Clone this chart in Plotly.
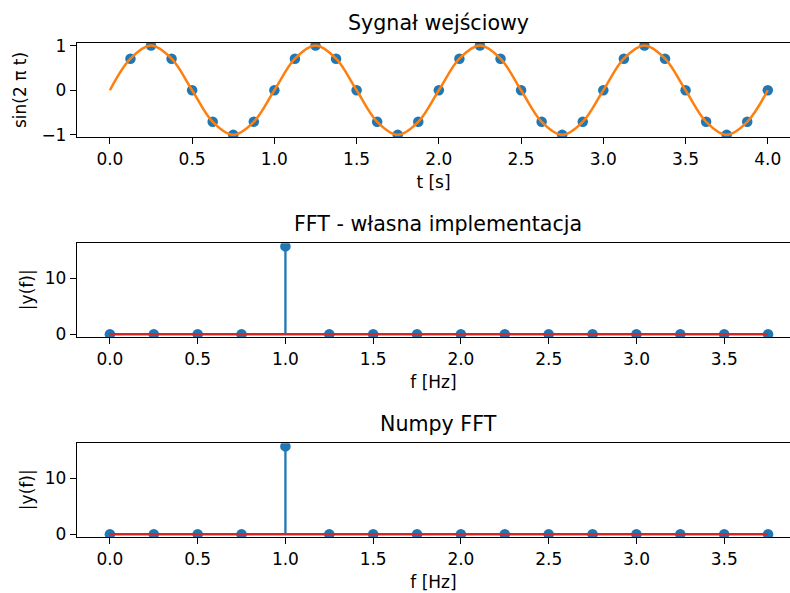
import plotly.graph_objects as go

# ---- data ----
t_samples = [0.0, 0.125, 0.25, 0.375, 0.5, 0.625, 0.75, 0.875,
             1.0, 1.125, 1.25, 1.375, 1.5, 1.625, 1.75, 1.875,
             2.0, 2.125, 2.25, 2.375, 2.5, 2.625, 2.75, 2.875,
             3.0, 3.125, 3.25, 3.375, 3.5, 3.625, 3.75, 3.875, 4.0]
signal = [0.0, 0.707, 1.0, 0.707, 0.0, -0.707, -1.0, -0.707,
          0.0, 0.707, 1.0, 0.707, 0.0, -0.707, -1.0, -0.707,
          0.0, 0.707, 1.0, 0.707, 0.0, -0.707, -1.0, -0.707,
          0.0, 0.707, 1.0, 0.707, 0.0, -0.707, -1.0, -0.707, 0.0]

freqs = [0.0, 0.25, 0.5, 0.75, 1.0, 1.25, 1.5, 1.75,
         2.0, 2.25, 2.5, 2.75, 3.0, 3.25, 3.5, 3.75]
fft_own = [0, 0, 0, 0, 15.7, 0, 0, 0, 0, 0, 0, 0, 0, 0, 0, 0]
fft_numpy = [0, 0, 0, 0, 15.7, 0, 0, 0, 0, 0, 0, 0, 0, 0, 0, 0]

titles = ["Sygnał wejściowy", "FFT - własna implementacja", "Numpy FFT"]
xtitles = ["t [s]", "f [Hz]", "f [Hz]"]
ytitles = ["sin(2 π t)", "|y(f)|", "|y(f)|"]

BLUE = "#1f77b4"
ORANGE = "#ff7f0e"
RED = "#d62728"
FONT = "DejaVu Sans"
TXT = dict(family=FONT, size=17, color="black")

fig = go.Figure()

# top: sampled points then continuous curve
fig.add_trace(go.Scatter(x=t_samples[1:], y=signal[1:], mode="markers",
                         marker=dict(color=BLUE, size=10.5), xaxis="x", yaxis="y"))
fig.add_trace(go.Scatter(x=t_samples, y=signal, mode="lines",
                         line=dict(color=ORANGE, width=2.5, shape="spline", smoothing=1.0),
                         xaxis="x", yaxis="y"))


def stem(xs, ys, xa, ya):
    sx, sy = [], []
    for xv, yv in zip(xs, ys):
        sx += [xv, xv, None]
        sy += [0, yv, None]
    fig.add_trace(go.Scatter(x=sx, y=sy, mode="lines", line=dict(color=BLUE, width=2.3),
                             xaxis=xa, yaxis=ya))
    fig.add_trace(go.Scatter(x=xs, y=ys, mode="markers", marker=dict(color=BLUE, size=10.5),
                             xaxis=xa, yaxis=ya))
    fig.add_trace(go.Scatter(x=[xs[0], xs[-1]], y=[0, 0], mode="lines",
                             line=dict(color=RED, width=2.5), xaxis=xa, yaxis=ya))


stem(freqs, fft_own, "x2", "y2")
stem(freqs, fft_numpy, "x3", "y3")

W, H = 790, 593
L = 77
doms = [(42.7, 137.3), (243.3, 337.0), (443.3, 537.0)]

axis_common = dict(showline=True, linecolor="black", linewidth=1.3, ticks="outside",
                   ticklen=6, tickwidth=1.3, tickcolor="black", showgrid=False,
                   zeroline=False, automargin=False, tickfont=TXT)

layout = dict(width=W, height=H, margin=dict(l=L, r=0, t=0, b=0, autoexpand=False),
              plot_bgcolor="white", paper_bgcolor="white", showlegend=False,
              font=TXT)

xranges = [[-0.2, 4.135], [-0.1875, 3.875], [-0.1875, 3.875]]
xticks = [[0, 0.5, 1, 1.5, 2, 2.5, 3, 3.5, 4], [0, 0.5, 1, 1.5, 2, 2.5, 3, 3.5],
          [0, 0.5, 1, 1.5, 2, 2.5, 3, 3.5]]
yranges = [[-1.055, 1.065], [-0.48, 16.25], [-0.48, 16.25]]
yticks = [[-1, 0, 1], [0, 10], [0, 10]]
ytitle_x = [20, 27, 27]

for i in range(3):
    sfx = "" if i == 0 else str(i + 1)
    top, bot = doms[i]
    dom = [1 - bot / H, 1 - top / H]
    layout["xaxis" + sfx] = dict(axis_common, domain=[0, 1], range=xranges[i],
                                 tickvals=xticks[i], tickformat=".1f", mirror=True,
                                 anchor="y" + sfx,
                                 title=dict(text=xtitles[i], standoff=8, font=TXT))
    layout["yaxis" + sfx] = dict(axis_common, domain=dom, range=yranges[i],
                                 tickvals=yticks[i], anchor="x" + sfx)

fig.update_layout(**layout)

title_y = [23, 224, 424]
for i in range(3):
    top, bot = doms[i]
    fig.add_annotation(text=titles[i], xref="paper", yref="paper",
                       x=(438 - L) / (W - L), y=1 - title_y[i] / H,
                       xanchor="center", yanchor="middle", showarrow=False,
                       font=dict(family=FONT, size=20.6, color="black"))
    fig.add_annotation(text=ytitles[i], xref="paper", yref="paper",
                       x=(ytitle_x[i] - L) / (W - L), y=1 - (top + bot) / 2 / H,
                       xanchor="center", yanchor="middle", textangle=-90,
                       showarrow=False, font=TXT)

fig.write_html("out.html", config={"displayModeBar": False},
               post_script="document.body.style.margin='0';document.body.style.overflow='hidden';")
